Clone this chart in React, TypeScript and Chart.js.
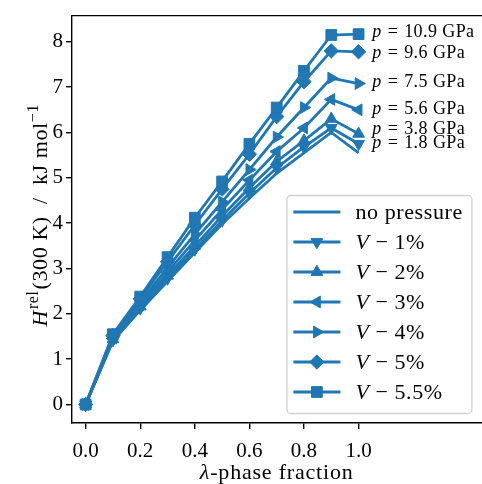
import React, { useEffect, useRef } from 'react';
import { Chart, registerables } from 'chart.js';
import { drawPoint } from 'chart.js/helpers';

Chart.register(...registerables);

// ---------- data ----------
const X_FRACTION = [0, 0.1, 0.2, 0.3, 0.4, 0.5, 0.6, 0.7, 0.8, 0.9, 1.0];
const H_NO_PRESSURE = [0, 1.40, 2.08, 2.72, 3.35, 3.98, 4.55, 5.10, 5.55, 6.00, 5.55];
const H_V1 = [0, 1.42, 2.12, 2.78, 3.42, 4.06, 4.66, 5.22, 5.68, 6.10, 5.75];
const H_V2 = [0, 1.44, 2.16, 2.84, 3.50, 4.16, 4.78, 5.36, 5.82, 6.30, 5.97];
const H_V3 = [0, 1.46, 2.20, 2.92, 3.62, 4.30, 4.95, 5.58, 6.10, 6.73, 6.50];
const H_V4 = [0, 1.49, 2.26, 3.02, 3.76, 4.47, 5.18, 5.90, 6.55, 7.20, 7.08];
const H_V5 = [0, 1.52, 2.33, 3.15, 3.96, 4.75, 5.52, 6.35, 7.12, 7.80, 7.78];
const H_V55 = [0, 1.55, 2.38, 3.25, 4.12, 4.92, 5.75, 6.55, 7.36, 8.15, 8.17];

const SERIES = [H_NO_PRESSURE, H_V1, H_V2, H_V3, H_V4, H_V5, H_V55];
const SERIES_LABELS = ['no pressure', 'V − 1%', 'V − 2%', 'V − 3%', 'V − 4%', 'V − 5%', 'V − 5.5%'];

const PRESSURE_LABELS = ['1.8', '3.8', '5.6', '7.5', '9.6', '10.9'];
const PRESSURE_LABEL_Y = [5.80, 6.11, 6.53, 7.14, 7.78, 8.24];
const PRESSURE_LABEL_X = 1.05;

const X_TICKS = [0, 0.2, 0.4, 0.6, 0.8, 1.0];
const Y_TICKS = [0, 1, 2, 3, 4, 5, 6, 7, 8];
const X_MIN = -0.05;
const X_MAX = 1.45;
const Y_MIN = -0.4085;
const Y_MAX = 8.5785;

// ---------- styles ----------
const COLOR = '#1f77b4';
const FONT = '"Liberation Serif", "Times New Roman", serif';
const MARKERS: { style: any; rotation: number; radius: number }[] = [
  { style: false, rotation: 0, radius: 0 },
  { style: 'triangle', rotation: 180, radius: 6.8 },
  { style: 'triangle', rotation: 0, radius: 6.8 },
  { style: 'triangle', rotation: 270, radius: 6.8 },
  { style: 'triangle', rotation: 90, radius: 6.8 },
  { style: 'rectRot', rotation: 0, radius: 7.2 },
  { style: 'rect', rotation: 0, radius: 7.6 },
];

type Part = { t: string; italic?: boolean; size: number; dy?: number; gap?: number };

function font(p: Part) {
  return `${p.italic ? 'italic ' : ''}${p.size}px ${FONT}`;
}
function richWidth(ctx: CanvasRenderingContext2D, parts: Part[]) {
  let w = 0;
  for (const p of parts) {
    ctx.font = font(p);
    w += ctx.measureText(p.t).width + (p.gap || 0);
  }
  return w;
}
function drawRich(ctx: CanvasRenderingContext2D, parts: Part[], x: number, y: number) {
  let cx = x;
  for (const p of parts) {
    ctx.font = font(p);
    ctx.fillText(p.t, cx, y + (p.dy || 0));
    cx += ctx.measureText(p.t).width + (p.gap || 0);
  }
}
function labelParts(label: string, size: number): Part[] {
  if (label.startsWith('V ')) {
    return [
      { t: 'V', italic: true, size, gap: 6 },
      { t: '−', size, gap: 6 },
      { t: label.slice(4), size },
    ];
  }
  return [{ t: label, size }];
}

const decorPlugin = {
  id: 'decor',
  afterDraw(chart: any) {
    const { ctx, chartArea: ca, scales } = chart;
    ctx.save();
    // top spine
    ctx.strokeStyle = '#000';
    ctx.lineWidth = 1.4;
    ctx.beginPath();
    ctx.moveTo(ca.left - 0.7, ca.top);
    ctx.lineTo(ca.right + 5, ca.top);
    ctx.stroke();

    ctx.fillStyle = '#000';
    ctx.textBaseline = 'alphabetic';
    // pressure annotations
    (ctx as any).letterSpacing = '0.4px';
    PRESSURE_LABELS.forEach((p, i) => {
      const x = scales.x.getPixelForValue(PRESSURE_LABEL_X);
      const y = scales.y.getPixelForValue(PRESSURE_LABEL_Y[i]) + 6;
      drawRich(ctx, [
        { t: 'p', italic: true, size: 18, gap: 6 },
        { t: '=', size: 18, gap: 6 },
        { t: p, size: 18, gap: 5 },
        { t: 'GPa', size: 18 },
      ], x, y);
    });

    // legend
    const bw = 185, bh = 218;
    const bx = ca.right - 10 - bw;
    const by = ca.bottom - 10 - bh;
    ctx.beginPath();
    ctx.roundRect(bx + 0.5, by + 0.5, bw, bh, 4);
    ctx.fillStyle = 'rgba(255,255,255,0.8)';
    ctx.fill();
    ctx.strokeStyle = '#d0d0d0';
    ctx.lineWidth = 1.3;
    ctx.stroke();
    SERIES_LABELS.forEach((lab, i) => {
      const ry = by + 17 + 30 * i;
      ctx.strokeStyle = COLOR;
      ctx.lineWidth = 2.8;
      ctx.beginPath();
      ctx.moveTo(bx + 7, ry);
      ctx.lineTo(bx + 54, ry);
      ctx.stroke();
      const m = MARKERS[i];
      if (m.style) {
        ctx.fillStyle = COLOR;
        ctx.strokeStyle = COLOR;
        ctx.lineWidth = 1;
        drawPoint(ctx, { pointStyle: m.style, rotation: m.rotation, radius: m.radius, borderWidth: 1 } as any, bx + 30.5, ry);
      }
      ctx.fillStyle = '#000';
      (ctx as any).letterSpacing = '0.6px';
      drawRich(ctx, labelParts(lab, 22), bx + 69, ry + 7);
    });

    // x title
    (ctx as any).letterSpacing = '0.8px';
    const xt: Part[] = [
      { t: 'λ', italic: true, size: 22 },
      { t: '-phase fraction', size: 22 },
    ];
    const xw = richWidth(ctx, xt);
    drawRich(ctx, xt, (ca.left + ca.right) / 2 - xw / 2, 479);

    // y title
    (ctx as any).letterSpacing = '0.6px';
    const yt: Part[] = [
      { t: 'H', italic: true, size: 22, gap: 1 },
      { t: 'rel', size: 16, dy: -9, gap: 1 },
      { t: '(300 K)  /  kJ mol', size: 22 },
      { t: '−1', size: 16, dy: -9 },
    ];
    const yw = richWidth(ctx, yt);
    ctx.translate(47, (ca.top + ca.bottom) / 2 - 4);
    ctx.rotate(-Math.PI / 2);
    drawRich(ctx, yt, -yw / 2, 0);
    ctx.restore();
  },
};

export default function App() {
  const ref = useRef<HTMLCanvasElement | null>(null);
  useEffect(() => {
    document.body.style.margin = '0';
    const canvas = ref.current!;
    const datasets = SERIES.map((vals, i) => ({
      label: SERIES_LABELS[i],
      data: X_FRACTION.map((x, j) => ({ x, y: vals[j] })),
      borderColor: COLOR,
      backgroundColor: COLOR,
      borderWidth: 2.8,
      pointStyle: MARKERS[i].style,
      pointRotation: MARKERS[i].rotation,
      pointRadius: MARKERS[i].radius,
      pointBorderWidth: 1,
      pointBorderColor: COLOR,
      pointBackgroundColor: COLOR,
      tension: 0,
      order: SERIES.length - i,
      clip: false as any,
    }));
    const tickFont = { family: FONT, size: 21 };
    const chart = new Chart(canvas, {
      type: 'line',
      data: { datasets },
      options: {
        animation: false,
        responsive: false,
        devicePixelRatio: 1,
        events: [],
        layout: { padding: { top: 14, left: 0, right: 7, bottom: 0 } },
        plugins: { legend: { display: false }, tooltip: { enabled: false } },
        scales: {
          x: {
            type: 'linear',
            min: X_MIN,
            max: X_MAX,
            afterBuildTicks: (a: any) => { a.ticks = X_TICKS.map((v) => ({ value: v })); },
            afterFit: (s: any) => { s.height = 61; },
            grid: { display: true, drawOnChartArea: false, drawTicks: true, tickLength: 6, color: '#000', lineWidth: 1.4 },
            border: { display: true, color: '#000', width: 1.4 },
            ticks: { color: '#000', font: tickFont, padding: 10, maxRotation: 0, autoSkip: false, callback: (v: any) => Number(v).toFixed(1) },
          },
          y: {
            type: 'linear',
            min: Y_MIN,
            max: Y_MAX,
            afterBuildTicks: (a: any) => { a.ticks = Y_TICKS.map((v) => ({ value: v })); },
            afterFit: (s: any) => { s.width = 72; },
            grid: { display: true, drawOnChartArea: false, drawTicks: true, tickLength: 6, color: '#000', lineWidth: 1.4 },
            border: { display: true, color: '#000', width: 1.4 },
            ticks: { color: '#000', font: tickFont, padding: 3, autoSkip: false, callback: (v: any) => String(v) },
          },
        },
      },
      plugins: [decorPlugin],
    } as any);
    return () => chart.destroy();
  }, []);
  return (
    <div style={{ position: 'absolute', left: 0, top: 0, width: 482, height: 484, overflow: 'hidden' }}>
      <canvas ref={ref} width={490} height={484} style={{ width: 490, height: 484, display: 'block' }} />
    </div>
  );
}
